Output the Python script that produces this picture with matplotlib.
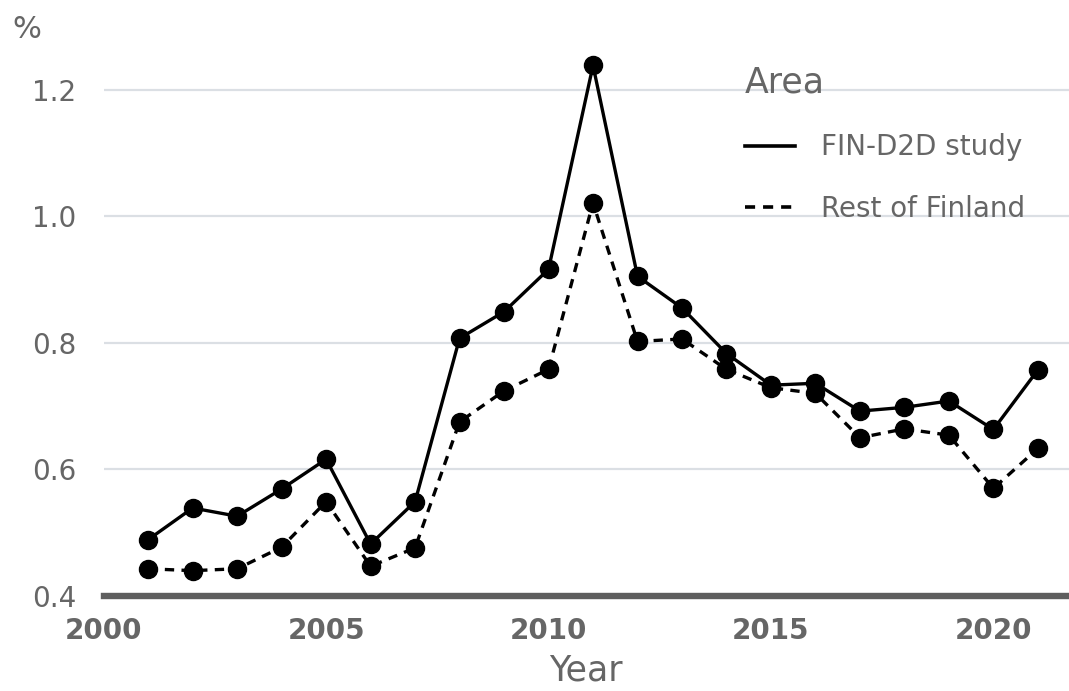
import matplotlib.pyplot as plt
from matplotlib.lines import Line2D

# Data
years = list(range(2001, 2022))
fin_d2d = [0.489, 0.539, 0.526, 0.569, 0.616, 0.482, 0.549, 0.807, 0.849, 0.916,
           1.238, 0.905, 0.855, 0.783, 0.733, 0.736, 0.692, 0.698, 0.708, 0.663, 0.757]
rest_fin = [0.443, 0.440, 0.443, 0.477, 0.549, 0.447, 0.476, 0.675, 0.724, 0.758,
            1.021, 0.802, 0.806, 0.758, 0.729, 0.720, 0.650, 0.664, 0.654, 0.570, 0.633]
series_labels = ['FIN-D2D study', 'Rest of Finland']
y_ticks = [0.4, 0.6, 0.8, 1.0, 1.2]
x_ticks = [2000, 2005, 2010, 2015, 2020]

text_grey = '#666666'
grid_col = '#dbdfe4'
dash = (0, (2.8, 2.2))

fig = plt.figure(figsize=(10.69, 6.91), dpi=100)
ax = fig.add_axes([0.097, 0.1375, 0.903, 0.798])

ax.plot(years, fin_d2d, color='black', lw=2.4, ls='-', marker='o', ms=13, zorder=3)
ax.plot(years, rest_fin, color='black', lw=2.4, ls=dash, marker='o', ms=13, zorder=3)

ax.set_xlim(2000, 2021.7)
ax.set_ylim(0.4, 1.271)
ax.set_yticks(y_ticks)
ax.set_yticklabels([f'{v:.1f}' for v in y_ticks])
ax.set_xticks(x_ticks)

for s in ['top', 'right', 'left']:
    ax.spines[s].set_visible(False)
ax.spines['bottom'].set_color('#5e5e5e')
ax.spines['bottom'].set_linewidth(4.6)

ax.grid(axis='y', color=grid_col, lw=1.6)
ax.set_axisbelow(True)
ax.tick_params(axis='both', length=0, colors=text_grey, labelsize=20)
ax.tick_params(axis='y', pad=20)
ax.tick_params(axis='x', pad=15)
for lbl in ax.get_xticklabels():
    lbl.set_fontweight('bold')

ax.set_xlabel('Year', fontsize=25, color=text_grey, labelpad=6)
fig.text(0.012, 0.957, '%', fontsize=22, color=text_grey, va='center', ha='left')

handles = [Line2D([0], [0], color='black', lw=2.6, ls='-'),
           Line2D([0], [0], color='black', lw=2.6, ls=dash)]
leg = ax.legend(handles, series_labels, title='Area', loc='upper left',
                bbox_to_anchor=(731 / 1069, 1 - 52 / 691), bbox_transform=fig.transFigure,
                frameon=False, fontsize=20, title_fontsize=25, borderpad=0,
                handlelength=1.8, handletextpad=0.95, labelspacing=1.2,
                alignment='left')
for t in leg.get_texts():
    t.set_color(text_grey)
leg.get_title().set_color(text_grey)

fig.savefig('out.png', dpi=100)
